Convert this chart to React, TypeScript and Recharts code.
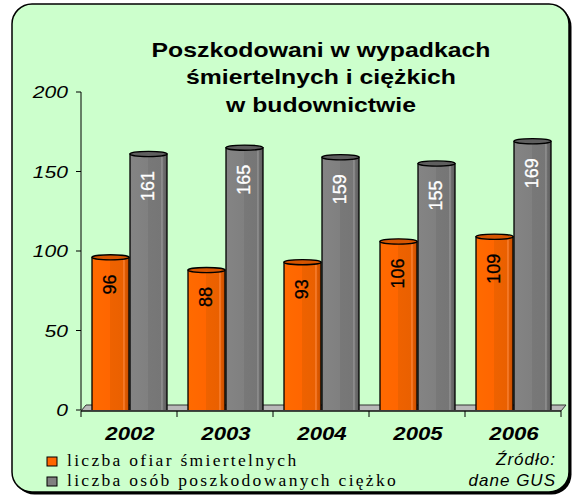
import React from 'react';
import { BarChart, Bar, XAxis, YAxis, LabelList } from 'recharts';

const years = ['2002', '2003', '2004', '2005', '2006'];
const fatal = [96, 88, 93, 106, 109];
const serious = [161, 165, 159, 155, 169];
const yTicks = [0, 50, 100, 150, 200];
const titleLines = ['Poszkodowani w wypadkach', 'śmiertelnych i ciężkich', 'w budownictwie'];
const legendLabels = ['liczba ofiar śmiertelnych', 'liczba osób poszkodowanych ciężko'];
const sourceLines = ['Źródło:', 'dane GUS'];

const data = years.map((y, i) => ({ year: y, fatal: fatal[i], serious: serious[i] }));

const W = 574;
const H = 499;
const PL = 81;
const PR = 561;
const PT = 92;
const PB = 410;
const SX = 1.24;

const palette = {
  o: { top: '#D65500', label: '#000000', square: '#FF6600' },
  g: { top: '#5E5E5E', label: '#FFFFFF', square: '#808080' },
};

const Cylinder = (props: any) => {
  const { x, y, width, height, kind } = props;
  if (width == null || height == null) return null;
  const ry = 2.6;
  const rx = width / 2;
  const cx = x + rx;
  const bottom = y + height;
  const d = `M${x},${y} L${x},${bottom} A${rx},${ry} 0 0 0 ${x + width},${bottom} L${x + width},${y} Z`;
  return (
    <g>
      <path d={d} fill={`url(#grad-${kind})`} stroke="#000" strokeWidth={1.3} />
      <ellipse cx={cx} cy={y} rx={rx} ry={ry} fill={palette[kind as 'o' | 'g'].top} stroke="#000" strokeWidth={1.3} />
    </g>
  );
};

const makeLabel = (kind: 'o' | 'g') => (props: any) => {
  const vb = props.viewBox || {};
  const x = props.x ?? vb.x;
  const y = props.y ?? vb.y;
  const width = props.width ?? vb.width;
  const cx = x + width / 2;
  const ty = y + 17;
  return (
    <text
      x={cx}
      y={ty}
      transform={`rotate(-90, ${cx}, ${ty})`}
      textAnchor="end"
      dominantBaseline="central"
      fontFamily="'Liberation Sans', Arial, sans-serif"
      fontSize={18}
      fontWeight={500}
      stroke={palette[kind].label}
      strokeWidth={0.3}
      fill={palette[kind].label}
    >
      {props.value}
    </text>
  );
};

const XTick = (props: any) => {
  const { x, y, payload } = props;
  return (
    <text
      transform={`translate(${x + 1}, ${y + 30}) scale(1.2, 1)`}
      x={0}
      y={0}
      textAnchor="middle"
      fontFamily="'Liberation Sans', Arial, sans-serif"
      fontSize={18.5}
      fontWeight="bold"
      fontStyle="italic"
      fill="#000"
    >
      {payload.value}
    </text>
  );
};

const YTick = (props: any) => {
  const { x, y, payload } = props;
  return (
    <text
      transform={`translate(${x}, ${y}) scale(${SX}, 1)`}
      x={0}
      y={0}
      dy="0.36em"
      textAnchor="end"
      fontFamily="'Liberation Sans', Arial, sans-serif"
      fontSize={17}
      fontStyle="italic"
      fill="#000"
    >
      {payload.value}
    </text>
  );
};

const Background = () => {
  const cat = (PR - PL) / years.length;
  const bounds = Array.from({ length: years.length + 1 }, (_, i) => PL + i * cat);
  return (
    <svg width={W} height={H} style={{ position: 'absolute', left: 0, top: 0 }}>
      <rect x={14.5} y={6.5} width={557} height={488} rx={20} fill="#000" />
      <rect x={12} y={4} width={557} height={488} rx={20} fill="#CCFFCC" stroke="#000" strokeWidth={1.5} />
      {titleLines.map((t, i) => (
        <text
          key={t}
          transform={`translate(321, ${56.5 + i * 27.5}) scale(${SX}, 1)`}
          x={0}
          y={0}
          textAnchor="middle"
          fontFamily="'Liberation Sans', Arial, sans-serif"
          fontSize={20}
          fontWeight="bold"
          fill="#000"
        >
          {t}
        </text>
      ))}
      <polygon points={`${PL},${PB + 1} ${PR},${PB + 1} ${PR + 5},${PB - 5} ${PL + 5},${PB - 5}`} fill="#B8B8B8" stroke="#333" strokeWidth={1} />
      <line x1={PL} y1={PB + 1} x2={PR} y2={PB + 1} stroke="#000" strokeWidth={1} />
      {bounds.map((bx) => (
        <line key={bx} x1={bx} y1={PB + 1} x2={bx} y2={PB + 7} stroke="#000" strokeWidth={1} />
      ))}
      {legendLabels.map((t, i) => (
        <g key={t}>
          <rect x={47} y={457 + i * 20} width={10} height={9} fill={i === 0 ? palette.o.square : palette.g.square} stroke="#000" strokeWidth={1} />
          <text
            x={67}
            y={466 + i * 19.5}
            fontFamily="'Liberation Serif', 'Times New Roman', serif"
            fontSize={17.5}
            letterSpacing={2.3}
            fill="#000"
          >
            {t}
          </text>
        </g>
      ))}
      {sourceLines.map((t, i) => (
        <text
          key={t}
          x={556}
          y={465 + i * 21}
          textAnchor="end"
          fontFamily="'Liberation Sans', Arial, sans-serif"
          fontSize={17}
          fontStyle="italic"
          letterSpacing={1}
          fill="#000"
        >
          {t}
        </text>
      ))}
    </svg>
  );
};

export default function App() {
  return (
    <div style={{ position: 'absolute', left: 0, top: 0, width: W, height: H }}>
      <Background />
      <div style={{ position: 'absolute', left: 0, top: 0 }}>
        <BarChart
          width={W}
          height={H}
          data={data}
          margin={{ top: PT, right: W - PR, left: PL - 60, bottom: H - PB - 30 }}
          barSize={37}
          barGap={1}
        >
          <defs>
            <linearGradient id="grad-o" x1="0" y1="0" x2="1" y2="0">
              <stop offset="0" stopColor="#FF6A00" />
              <stop offset="0.48" stopColor="#FF6600" />
              <stop offset="0.5" stopColor="#EE6200" />
              <stop offset="0.84" stopColor="#EA6000" />
              <stop offset="0.86" stopColor="#FF8A40" />
              <stop offset="0.9" stopColor="#E05A00" />
              <stop offset="1" stopColor="#C44E00" />
            </linearGradient>
            <linearGradient id="grad-g" x1="0" y1="0" x2="1" y2="0">
              <stop offset="0" stopColor="#848484" />
              <stop offset="0.48" stopColor="#808080" />
              <stop offset="0.5" stopColor="#787878" />
              <stop offset="0.84" stopColor="#767676" />
              <stop offset="0.86" stopColor="#9A9A9A" />
              <stop offset="0.9" stopColor="#6E6E6E" />
              <stop offset="1" stopColor="#5C5C5C" />
            </linearGradient>
          </defs>
          <XAxis
            dataKey="year"
            axisLine={false}
            tickLine={false}
            tickSize={0}
            tickMargin={0}
            height={30}
            tick={<XTick />}
            interval={0}
          />
          <YAxis
            domain={[0, 200]}
            ticks={yTicks}
            width={60}
            tickSize={5}
            tickMargin={8}
            axisLine={{ stroke: '#000', strokeWidth: 1 }}
            tickLine={{ stroke: '#000', strokeWidth: 1 }}
            tick={<YTick />}
            allowDataOverflow
          />
          <Bar dataKey="fatal" isAnimationActive={false} shape={(p: any) => <Cylinder {...p} kind="o" />}>
            <LabelList dataKey="fatal" content={makeLabel('o')} />
          </Bar>
          <Bar dataKey="serious" isAnimationActive={false} shape={(p: any) => <Cylinder {...p} kind="g" />}>
            <LabelList dataKey="serious" content={makeLabel('g')} />
          </Bar>
        </BarChart>
      </div>
    </div>
  );
}
